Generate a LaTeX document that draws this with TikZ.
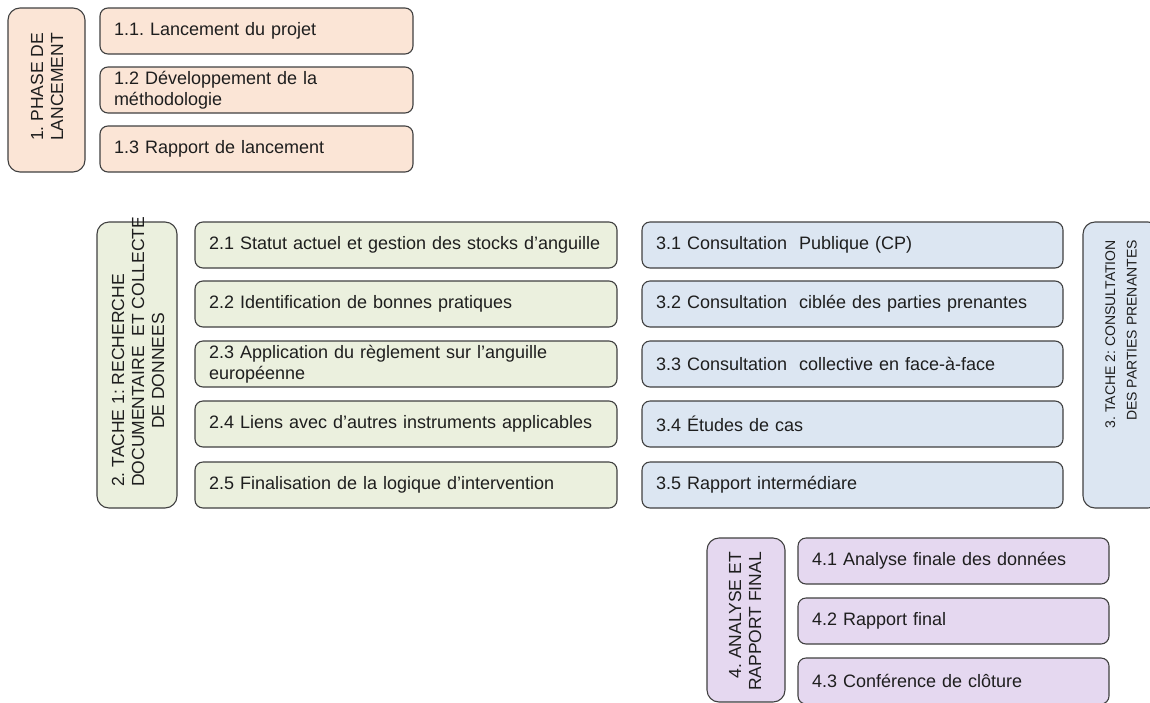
\documentclass[tikz,border=0pt]{standalone}
\usepackage{fontspec}
\setmainfont{Liberation Sans}
\frenchspacing
\definecolor{peach}{RGB}{251,229,214}
\definecolor{sage}{RGB}{235,240,222}
\definecolor{sky}{RGB}{220,230,242}
\definecolor{lilac}{RGB}{229,216,240}
\definecolor{edge}{RGB}{64,64,64}
\definecolor{ink}{RGB}{30,30,30}
\begin{document}
\begin{tikzpicture}[x=1pt,y=-1pt,
  txt/.style={font=\fontsize{18}{20.5}\selectfont, text=ink},
  box/.style={txt, draw=edge, line width=1.1pt, rounded corners=8pt,
    anchor=north west, inner xsep=14pt, inner ysep=0pt, outer sep=0pt,
    minimum height=46pt, align=left},
  lab/.style={draw=edge, line width=1.1pt, rounded corners=12pt,
    anchor=north west, inner sep=0pt, outer sep=0pt},
  labtxt/.style={font=\fontsize{17.5}{20}\selectfont, text=ink, rotate=90, inner sep=0pt},
  pbox/.style={box, fill=peach, text width=285pt},
  gbox/.style={box, fill=sage, text width=394pt},
  bbox/.style={box, fill=sky, text width=393pt},
  vbox/.style={box, fill=lilac, text width=283pt}]
\useasboundingbox (0,0) rectangle (1150,702);

% Phase 1: launch
\node[lab, fill=peach, minimum width=77pt, minimum height=164pt] (L1) at (8,8) {};
\node[labtxt, align=center] (L1t) at (47,87) {1. PHASE DE\\LANCEMENT};
\node[pbox] (p11) at (100,8)   {1.1. Lancement du projet};
\node[pbox] (p12) at (100,67)  {1.2 Développement de la\\méthodologie};
\node[pbox] (p13) at (100,126) {1.3 Rapport de lancement};

% Task 1: desk research and data collection
\node[lab, fill=sage, minimum width=80pt, minimum height=286pt] (L2) at (97,222) {};
\node[labtxt, align=left, anchor=west] (L2t) at (138,487)
  {2. TACHE 1: RECHERCHE\\DOCUMENTAIRE\ \ ET COLLECTE\\\hspace*{58pt}DE DONNEES};
\node[gbox] (t21) at (195,222) {2.1 Statut actuel et gestion des stocks d’anguille};
\node[gbox] (t22) at (195,281) {2.2 Identification de bonnes pratiques};
\node[gbox] (t23) at (195,341) {2.3 Application du règlement sur l’anguille\\européenne};
\node[gbox] (t24) at (195,401) {2.4 Liens avec d’autres instruments applicables};
\node[gbox] (t25) at (195,462) {2.5 Finalisation de la logique d’intervention};

% Task 2: stakeholder consultation
\node[bbox] (t31) at (642,222) {3.1 Consultation\ \ Publique (CP)};
\node[bbox] (t32) at (642,281) {3.2 Consultation\ \ ciblée des parties prenantes};
\node[bbox] (t33) at (642,341) {3.3 Consultation\ \ collective en face-à-face};
\node[bbox] (t34) at (642,401) {3.4 Études de cas};
\node[bbox] (t35) at (642,462) {3.5 Rapport intermédiare};
\node[lab, fill=sky, minimum width=77pt, minimum height=286pt] (L3) at (1083,222) {};
\node[labtxt, font=\fontsize{14}{21.5}\selectfont, align=right, anchor=east] (L3t) at (1121,240)
  {3. TACHE 2: CONSULTATION\\DES PARTIES PRENANTES};

% Analysis and final report
\node[lab, fill=lilac, minimum width=78pt, minimum height=164pt] (L4) at (707,538) {};
\node[labtxt, align=right, anchor=east] (L4t) at (745,552)
  {4. ANALYSE ET\\RAPPORT FINAL};
\node[vbox] (t41) at (798,538) {4.1 Analyse finale des données};
\node[vbox] (t42) at (798,598) {4.2 Rapport final};
\node[vbox] (t43) at (798,658) {4.3 Conférence de clôture};
\end{tikzpicture}
\end{document}
